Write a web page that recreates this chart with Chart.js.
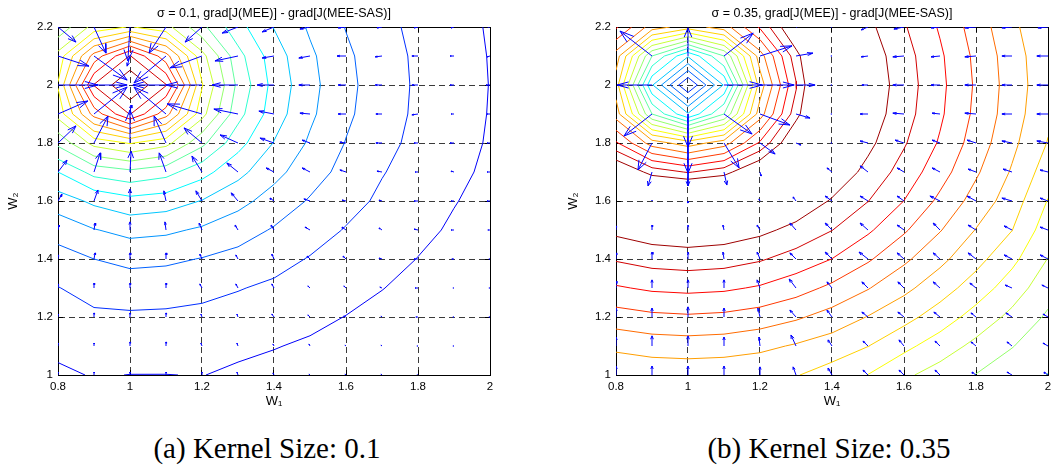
<!DOCTYPE html>
<html><head><meta charset="utf-8">
<script src="https://cdn.jsdelivr.net/npm/chart.js@4.4.1/dist/chart.umd.min.js"></script>
<style>
html,body{margin:0;padding:0;background:#fff;width:1051px;height:476px;overflow:hidden;}
canvas{position:absolute;top:0;}
#cA{left:0;} #cB{left:560px;}
.cap{position:absolute;top:430px;font-family:"Liberation Serif","Times New Roman",serif;font-size:29px;line-height:36px;white-space:nowrap;transform:translateX(-50%);color:#000;}
</style></head><body>
<canvas id="cA" width="500" height="420"></canvas>
<canvas id="cB" width="491" height="420"></canvas>
<div class="cap" style="left:267px">(a) Kernel Size: 0.1</div>
<div class="cap" style="left:829px">(b) Kernel Size: 0.35</div>
<script>
// ---------------- data ----------------
const X_NODES = [0.8,0.9,1.0,1.1,1.2,1.3,1.4,1.5,1.6,1.7,1.8,1.9,2.0];
const Y_NODES = [1.0,1.1,1.2,1.3,1.4,1.5,1.6,1.7,1.8,1.9,2.0,2.1,2.2];
const X_TICKS = [0.8,1,1.2,1.4,1.6,1.8,2];
const X_TICK_LABELS = ['0.8','1','1.2','1.4','1.6','1.8','2'];
const Y_TICKS = [1,1.2,1.4,1.6,1.8,2,2.2];
const Y_TICK_LABELS = ['1','1.2','1.4','1.6','1.8','2','2.2'];
const TITLE_A = 'σ = 0.1, grad[J(MEE)] - grad[J(MEE-SAS)]';
const TITLE_B = 'σ = 0.35, grad[J(MEE)] - grad[J(MEE-SAS)]';
const X_LABEL = 'W₁';
const Y_LABEL = 'W₂';

// contour levels
const LEVELS_A = [0,1,2,3,4,5,6,7,8,9,10,11,12,13,14,15,16,17];
const LEVELS_B = [1,2,3,4,5,6,7,8,9,10,11,12,13,14,15,16,17];

// surface values at grid nodes; rows y = 1.0 ... 2.2, columns x = 0.8 ... 2.0
const Z_A = [
 [-0.15, 0.05,-0.01,-0.01, 0.02,-0.16,-0.27,-0.41,-0.56,-0.74,-0.94,-1.15,-1.37],
 [ 0.20, 0.39, 0.42, 0.39, 0.32, 0.20, 0.04,-0.12,-0.29,-0.48,-0.69,-0.90,-1.15],
 [ 0.55, 0.83, 0.86, 0.83, 0.75, 0.62, 0.44, 0.22,-0.02,-0.22,-0.45,-0.69,-0.94],
 [ 0.97, 1.35, 1.48, 1.43, 1.28, 1.05, 0.83, 0.59, 0.32, 0.02,-0.22,-0.48,-0.74],
 [ 1.60, 2.00, 2.26, 2.18, 1.96, 1.69, 1.33, 0.94, 0.64, 0.32,-0.02,-0.29,-0.56],
 [ 2.40, 2.95, 3.30, 3.18, 2.86, 2.43, 1.91, 1.43, 0.94, 0.59, 0.22,-0.12,-0.41],
 [ 3.50, 4.20, 4.66, 4.47, 3.96, 3.30, 2.60, 1.91, 1.33, 0.83, 0.44, 0.04,-0.27],
 [ 5.00, 6.35, 6.75, 6.35, 5.35, 4.29, 3.30, 2.43, 1.69, 1.05, 0.62, 0.20,-0.16],
 [ 7.26, 9.35,10.08, 9.35, 7.26, 5.35, 3.96, 2.86, 1.96, 1.28, 0.75, 0.32,-0.08],
 [ 9.35,13.40,16.06,13.40, 9.35, 6.35, 4.47, 3.18, 2.18, 1.43, 0.83, 0.39,-0.04],
 [10.08,16.06,17.97,16.06,10.08, 6.75, 4.66, 3.30, 2.26, 1.48, 0.86, 0.42,-0.02],
 [ 9.35,13.40,16.06,13.40, 9.35, 6.35, 4.47, 3.18, 2.18, 1.43, 0.83, 0.39,-0.04],
 [ 7.26, 9.35,10.08, 9.35, 7.26, 5.35, 3.96, 2.86, 1.96, 1.28, 0.75, 0.32,-0.08]
];
const Z_B = [
 [11.11,11.28,11.33,11.28,11.20,11.05,10.60, 9.98, 9.18, 8.58, 7.97, 7.50, 6.97],
 [12.24,12.46,12.53,12.46,12.24,11.90,11.50,11.02,10.26, 9.50, 8.75, 8.04, 7.45],
 [13.54,13.78,13.87,13.78,13.54,13.14,12.61,11.96,11.33,10.53, 9.61, 8.75, 7.85],
 [14.89,15.16,15.25,15.16,14.89,14.41,13.78,13.06,12.24,11.45,10.53, 9.50, 8.40],
 [16.10,16.40,16.50,16.40,16.10,15.60,14.99,14.13,13.20,12.24,11.33,10.26, 8.97],
 [17.25,17.60,17.75,17.60,17.25,16.70,16.02,15.16,14.13,13.06,11.96,11.02, 9.45],
 [19.10,20.00,20.27,20.00,19.10,17.75,16.90,16.02,14.99,13.78,12.61,11.50, 9.95],
 [18.30,16.60,15.91,16.60,18.30,19.70,17.75,16.70,15.60,14.41,13.14,11.90,10.50],
 [15.15,12.52,11.47,12.52,15.15,18.30,19.10,17.25,16.10,14.89,13.54,12.24,10.95],
 [12.52, 7.00, 4.10, 7.00,12.52,16.60,20.00,17.60,16.40,15.16,13.78,12.46,11.20],
 [11.47, 4.10,-0.08, 4.10,11.47,15.91,20.27,17.75,16.50,15.25,13.87,12.53,11.33],
 [12.52, 7.00, 4.10, 7.00,12.52,16.60,20.00,17.60,16.40,15.16,13.78,12.46,11.28],
 [15.15,12.52,11.47,12.52,15.15,18.30,19.10,17.25,16.10,14.89,13.54,12.24,11.11]
];

// gradient-difference arrows (thousandths of an axis unit); rows y = 1.0 ... 2.2
const U_A = [
 [0,0,0,0,0,-3,-3,-3,-3,-3,-3,0,0],
 [0,0,0,0,-3,-3,-3,-3,-3,-3,-3,-3,0],
 [0,0,0,0,-3,-3,-6,-6,-6,-3,-6,-3,-3],
 [0,0,0,0,-6,-6,-6,-6,-6,-6,-8,-3,-3],
 [0,3,0,0,-6,-6,-6,-8,-8,-8,-11,-6,-3],
 [3,3,0,-3,-8,-8,-8,-14,-11,-8,-11,-8,-6],
 [11,11,0,-6,-17,-19,-11,-17,-11,-8,-11,-8,-8],
 [25,17,3,-19,-28,-31,-22,-22,-17,-14,-8,-8,-8],
 [50,39,0,-33,-50,-50,-39,-22,-17,-17,-11,-11,-8],
 [83,92,3,-89,-97,-67,-42,-28,-22,-17,-17,-8,-8],
 [111,92,0,-92,-100,-72,-47,-31,-22,-19,-17,-11,-11],
 [86,92,-8,-89,-89,-64,-33,-31,-25,-19,-17,-11,-8],
 [50,33,-6,-47,-47,-44,-33,-28,-22,-14,-11,-8,-6]
];
const V_A = [
 [10,10,10,10,10,10,7,3,3,3,0,0,0],
 [10,10,14,14,10,10,7,7,3,3,0,0,0],
 [10,14,14,14,10,10,10,7,3,3,0,0,0],
 [14,17,17,17,14,14,14,7,7,3,0,0,0],
 [14,21,21,21,17,14,17,10,10,3,0,0,0],
 [17,24,28,28,24,17,17,10,10,7,3,0,0],
 [24,38,41,35,35,28,10,7,3,3,0,0,0],
 [41,66,72,66,55,31,14,14,7,3,0,3,0],
 [59,93,114,93,52,28,17,10,3,0,0,0,0],
 [45,93,31,93,35,17,10,3,0,0,-3,0,0],
 [0,0,0,0,0,0,0,0,0,0,0,0,0],
 [-35,-83,-35,-93,-41,-17,-7,-7,0,-3,0,0,-3],
 [-52,-90,-117,-90,-52,-21,-17,-7,-3,-3,-3,-3,0]
];
const U_B = [
 [0,0,0,0,0,-8,-11,-14,-14,-14,-11,-14,-11],
 [0,0,0,0,-3,-14,-11,-14,-14,-14,-14,-14,-14],
 [0,0,0,0,-6,-17,-14,-17,-17,-17,-14,-17,-14],
 [0,0,0,0,-8,-19,-14,-17,-17,-19,-17,-19,-17],
 [0,0,0,-3,-8,-17,-19,-25,-19,-19,-22,-22,-22],
 [0,0,0,-3,-8,-17,-19,-22,-19,-19,-22,-22,-22],
 [0,0,0,0,-3,-8,-19,-22,-19,-28,-25,-28,-22],
 [0,-11,0,8,3,0,-14,-22,-19,-22,-22,-25,-22],
 [-3,-39,0,42,42,14,-3,-22,-25,-22,-25,-28,-31],
 [-6,-78,0,78,83,39,-3,-22,-31,-22,-31,-28,-31],
 [-6,-97,0,106,95,53,-3,-17,-31,-25,-31,-28,-31],
 [-6,-89,0,81,89,47,-3,-19,-31,-25,-31,-28,-31],
 [-3,-8,0,8,8,3,-3,-19,-28,-25,-31,-28,-28]
];
const V_B = [
 [31,31,31,31,28,28,24,17,17,17,10,10,10],
 [31,35,35,31,31,38,21,17,21,17,14,14,10],
 [31,31,35,31,31,24,24,17,17,17,14,14,10],
 [24,28,28,28,28,31,21,21,21,21,17,10,10],
 [21,24,24,24,24,21,24,24,21,21,21,14,14],
 [14,17,17,17,17,24,24,24,17,24,17,14,10],
 [0,3,-7,0,7,14,17,17,17,17,17,10,10],
 [0,-48,-48,-45,-14,0,14,21,14,14,10,10,7],
 [-3,-93,-104,-86,-38,-7,0,7,10,10,10,7,7],
 [-3,-76,-114,-69,-38,-14,0,0,3,3,3,0,0],
 [0,0,0,0,0,0,0,0,0,0,0,0,0],
 [3,86,97,79,35,10,0,-3,-3,-3,-3,0,0],
 [3,7,10,7,3,0,0,-10,-7,-3,-3,-3,-3]
];
const ARROW_UNIT = 0.001;

// ---------------- helpers ----------------
function jet(t){
  const c = v => Math.round(255*Math.max(0, Math.min(1, v)));
  return 'rgb(' + c(1.5-Math.abs(4*t-3)) + ',' + c(1.5-Math.abs(4*t-2)) + ',' + c(1.5-Math.abs(4*t-1)) + ')';
}
const levelColor = lv => jet(0.12 + 0.05*lv);

function marching(Z, lv){
  const segs = [];
  for (let j = 0; j < Y_NODES.length-1; j++) for (let i = 0; i < X_NODES.length-1; i++){
    const x0 = X_NODES[i], x1 = X_NODES[i+1], y0 = Y_NODES[j], y1 = Y_NODES[j+1];
    const z0 = Z[j][i], z1 = Z[j][i+1], z2 = Z[j+1][i+1], z3 = Z[j+1][i];
    const c = (z0>lv?1:0)|(z1>lv?2:0)|(z2>lv?4:0)|(z3>lv?8:0);
    if (c === 0 || c === 15) continue;
    const P = (xa,ya,za,xb,yb,zb) => { const t = (lv-za)/(zb-za); return {x: xa+t*(xb-xa), y: ya+t*(yb-ya)}; };
    const b = () => P(x0,y0,z0,x1,y0,z1);
    const r = () => P(x1,y0,z1,x1,y1,z2);
    const t = () => P(x0,y1,z3,x1,y1,z2);
    const l = () => P(x0,y0,z0,x0,y1,z3);
    const mid = (z0+z1+z2+z3)/4 > lv;
    switch (c){
      case 1: case 14: segs.push([l(),b()]); break;
      case 2: case 13: segs.push([b(),r()]); break;
      case 3: case 12: segs.push([l(),r()]); break;
      case 4: case 11: segs.push([r(),t()]); break;
      case 6: case 9: segs.push([b(),t()]); break;
      case 7: case 8: segs.push([l(),t()]); break;
      case 5: if (mid){ segs.push([l(),t()]); segs.push([b(),r()]); } else { segs.push([l(),b()]); segs.push([r(),t()]); } break;
      case 10: if (mid){ segs.push([l(),b()]); segs.push([r(),t()]); } else { segs.push([l(),t()]); segs.push([b(),r()]); } break;
    }
  }
  return segs;
}

function chain(segs){
  const key = p => p.x.toFixed(9)+','+p.y.toFixed(9);
  const map = new Map();
  segs.forEach((s, idx) => s.forEach(p => { const k = key(p); if (!map.has(k)) map.set(k, []); map.get(k).push(idx); }));
  const used = new Array(segs.length).fill(false);
  const lines = [];
  for (let i = 0; i < segs.length; i++){
    if (used[i]) continue;
    used[i] = true;
    const line = [segs[i][0], segs[i][1]];
    const extend = atEnd => {
      while (true){
        const p = atEnd ? line[line.length-1] : line[0];
        const cand = (map.get(key(p)) || []).filter(j => !used[j]);
        if (!cand.length) break;
        const j = cand[0]; used[j] = true;
        const s = segs[j];
        const q = key(s[0]) === key(p) ? s[1] : s[0];
        if (atEnd) line.push(q); else line.unshift(q);
      }
    };
    extend(true); extend(false);
    lines.push(line);
  }
  return lines;
}

function contourDatasets(Z, levels){
  return levels.map(lv => {
    const data = [];
    chain(marching(Z, lv)).forEach(line => { line.forEach(p => data.push(p)); data.push({x:null, y:null}); });
    return { data, borderColor: levelColor(lv), borderWidth: 1, showLine: true, pointRadius: 0, spanGaps: false, tension: 0, fill: false };
  });
}

function quiverDataset(U, V){
  const a = 0.33, bb = 0.33, data = [];
  for (let j = 0; j < Y_NODES.length; j++) for (let i = 0; i < X_NODES.length; i++){
    const u = U[j][i]*ARROW_UNIT, v = V[j][i]*ARROW_UNIT;
    if (u === 0 && v === 0) continue;
    const x = X_NODES[i], y = Y_NODES[j], tx = x+u, ty = y+v;
    data.push({x, y}, {x: tx, y: ty}, {x:null, y:null});
    data.push({x: tx - a*(u + bb*v), y: ty - a*(v - bb*u)}, {x: tx, y: ty}, {x: tx - a*(u - bb*v), y: ty - a*(v + bb*u)}, {x:null, y:null});
  }
  return { data, borderColor: 'rgb(0,0,255)', borderWidth: 1, showLine: true, pointRadius: 0, spanGaps: false, tension: 0, fill: false };
}

Chart.defaults.font.family = '"Liberation Sans", Arial, Helvetica, sans-serif';
Chart.defaults.font.size = 11.5;
Chart.defaults.color = '#000';

const GRID = '#3a3a3a';
const TICK_IN = -5;
function makeChart(id, title, Z, levels, U, V, yW, y2W){
  const xTicks = s => { s.ticks = X_TICKS.map(v => ({value: v})); };
  const yTicks = s => { s.ticks = Y_TICKS.map(v => ({value: v})); };
  new Chart(document.getElementById(id), {
    type: 'scatter',
    data: { datasets: [quiverDataset(U, V), ...contourDatasets(Z, levels)] },
    options: {
      responsive: false, animation: false, devicePixelRatio: 1, events: [],
      layout: { padding: 0 },
      plugins: { legend: {display:false}, tooltip: {enabled:false}, title: {display:false} },
      scales: {
        x: {
          type: 'linear', position: 'bottom', min: 0.8, max: 2.0,
          afterBuildTicks: xTicks,
          ticks: { callback: (v, i) => X_TICK_LABELS[i], padding: 10, maxRotation: 0, autoSkip: false, color: '#000' },
          grid: { color: GRID, lineWidth: 1, drawTicks: true, tickLength: TICK_IN, tickColor: '#000' },
          border: { display: true, color: '#000', width: 1, dash: [6,4] },
          title: { display: true, text: X_LABEL, color: '#000', font: {size: 13}, padding: {top: 0, bottom: 11} },
          afterFit: s => { s.height = 45; s.paddingLeft = 0; s.paddingRight = 0; }
        },
        y: {
          type: 'linear', position: 'left', min: 1.0, max: 2.2,
          afterBuildTicks: yTicks,
          ticks: { callback: (v, i) => Y_TICK_LABELS[i], padding: 10, autoSkip: false, color: '#000' },
          grid: { color: GRID, lineWidth: 1, drawTicks: true, tickLength: TICK_IN, tickColor: '#000' },
          border: { display: true, color: '#000', width: 1, dash: [6,4] },
          title: { display: true, text: Y_LABEL, color: '#000', font: {size: 13}, padding: {top: 6, bottom: 0} },
          afterFit: s => { s.width = yW; s.paddingTop = 0; s.paddingBottom = 0; }
        },
        x2: {
          type: 'linear', position: 'top', min: 0.8, max: 2.0,
          afterBuildTicks: xTicks,
          grid: { display: true, drawOnChartArea: false, drawTicks: true, tickLength: TICK_IN, tickColor: '#000', color: '#000' },
          ticks: { display: false },
          border: { display: true, color: '#000', width: 1 },
          title: { display: true, text: title, color: '#000', font: {size: 12.5}, padding: {top: 6, bottom: 0} },
          afterFit: s => { s.height = 27; s.paddingLeft = 0; s.paddingRight = 0; }
        },
        y2: {
          type: 'linear', position: 'right', min: 1.0, max: 2.2,
          afterBuildTicks: yTicks,
          grid: { display: true, drawOnChartArea: false, drawTicks: true, tickLength: TICK_IN, tickColor: '#000', color: '#000' },
          ticks: { display: false },
          border: { display: true, color: '#000', width: 1 },
          afterFit: s => { s.width = y2W; s.paddingTop = 0; s.paddingBottom = 0; }
        }
      }
    }
  });
}

makeChart('cA', TITLE_A, Z_A, LEVELS_A, U_A, V_A, 58, 10);
makeChart('cB', TITLE_B, Z_B, LEVELS_B, U_B, V_B, 56, 3);
</script>
</body></html>
